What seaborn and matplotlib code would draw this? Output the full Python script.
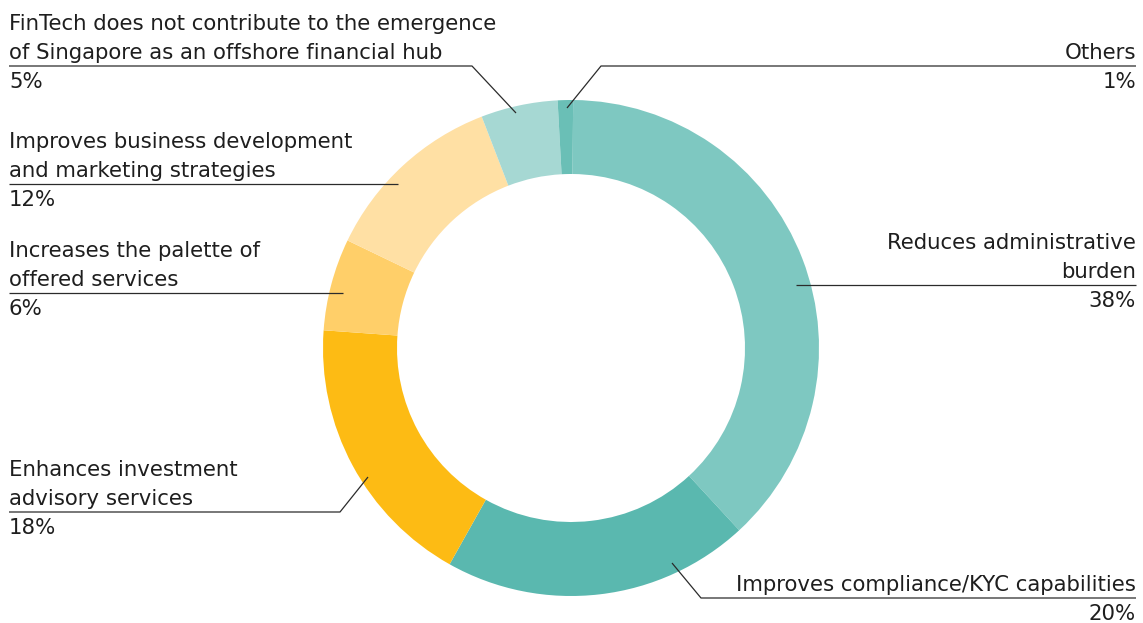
import matplotlib
matplotlib.use("Agg")
import matplotlib.pyplot as plt
import seaborn as sns

# Survey answers, clockwise from 12 o'clock
categories = [
    "Reduces administrative\nburden",
    "Improves compliance/KYC capabilities",
    "Enhances investment\nadvisory services",
    "Increases the palette of\noffered services",
    "Improves business development\nand marketing strategies",
    "FinTech does not contribute to the emergence\nof Singapore as an offshore financial hub",
    "Others",
]
shares = [38, 20, 18, 6, 12, 5, 1]
colors = ["#7ec8c1", "#5ab8af", "#fdbb14", "#ffcf69", "#ffe0a4", "#a6d8d3", "#6abfb6"]

# Label layout in pixel space (y measured downward): side, anchor in ring, elbow
sides = ["right", "right", "left", "left", "left", "left", "right"]
anchors = [(796, 285), (672, 563), (368, 477), (343, 293), (398, 184), (516, 113), (567, 108)]
elbows = [(796, 285), (701, 598), (340, 512), (343, 293), (398, 184), (472, 66), (601, 66)]

W, H = 1143, 623
sns.set_theme(style="white")
plt.rcParams["font.family"] = ["DejaVu Sans"]

fig = plt.figure(figsize=(W / 100, H / 100), dpi=100)
ax = fig.add_axes([0, 0, 1, 1])

cx, cy = 571, 348
r_out, r_in = 248, 174
ax.pie(shares, colors=colors, startangle=89.5, counterclock=False,
       radius=r_out, center=(cx, H - cy),
       wedgeprops=dict(width=r_out - r_in, linewidth=0))
ax.set_xlim(0, W)
ax.set_ylim(0, H)
ax.set_aspect("equal")
ax.axis("off")

text_color = "#1e1e1e"
line_color = "#2b2b2b"
fs = 15.3
left_x, right_x = 9, 1136
line_gap = 29

for cat, val, side, (ax_, ay_), (ex, ey) in zip(categories, shares, sides, anchors, elbows):
    end_x = left_x if side == "left" else right_x
    ax.plot([ax_, ex, end_x], [H - ay_, H - ey, H - ey], color=line_color, lw=0.9,
            solid_capstyle="butt", zorder=3)
    ha = "left" if side == "left" else "right"
    lines = cat.split("\n")
    for i, ln in enumerate(reversed(lines)):
        ax.text(end_x, H - (ey - 7 - i * line_gap), ln, ha=ha, va="baseline",
                fontsize=fs, color=text_color)
    ax.text(end_x, H - (ey + 22), f"{val}%", ha=ha, va="baseline",
            fontsize=fs, color=text_color)

fig.savefig("out.png", dpi=100, facecolor="white")
